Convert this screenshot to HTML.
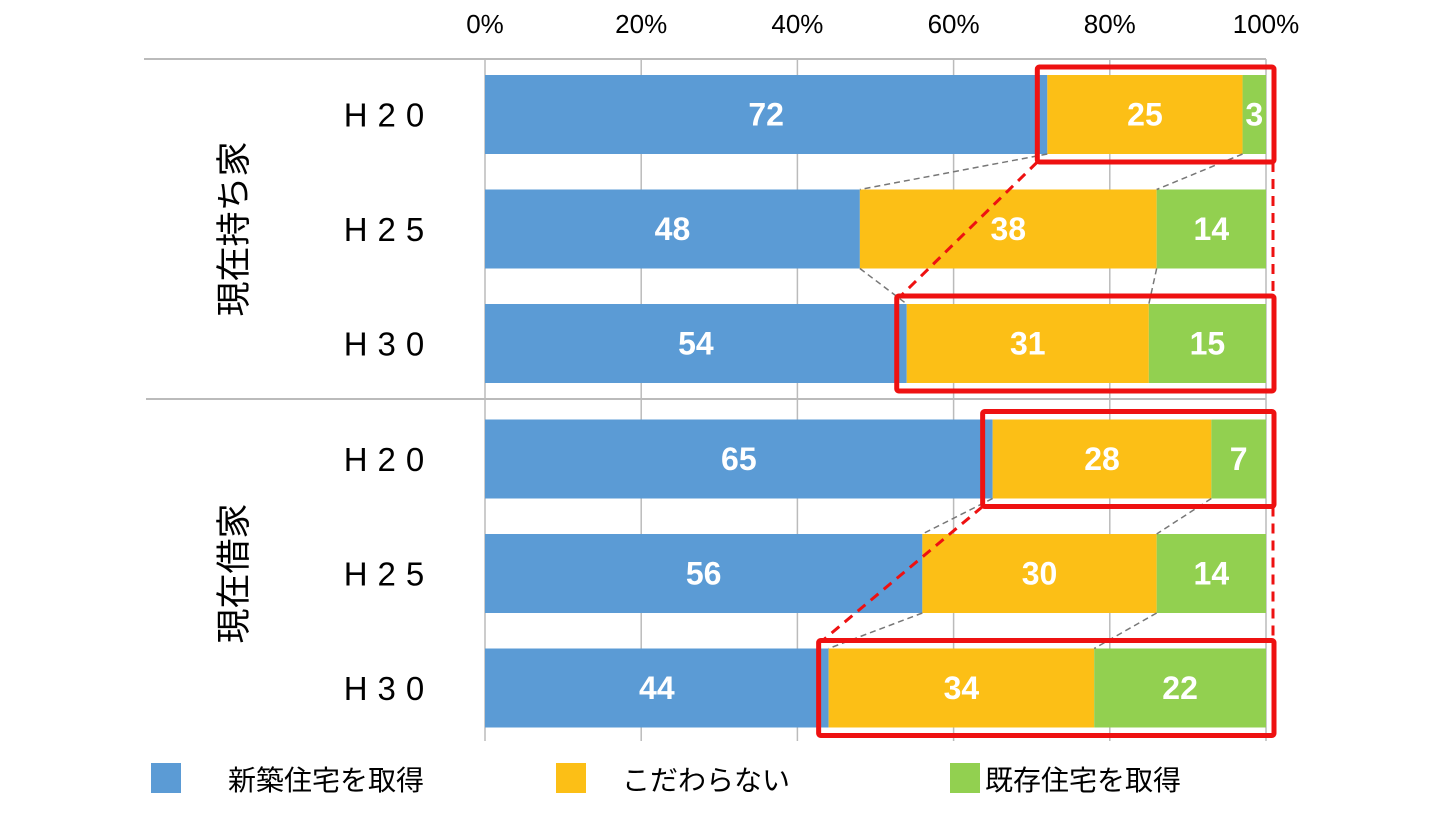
<!DOCTYPE html>
<html><head><meta charset="utf-8"><style>
body{margin:0;background:#fff;width:1440px;height:810px;overflow:hidden;font-family:"Liberation Sans","Noto Sans CJK JP",sans-serif}
</style></head><body>
<svg id="chart" width="1440" height="810" xmlns="http://www.w3.org/2000/svg"></svg>
<script>
const categories=["H20","H25","H30","H20","H25","H30"];
const groups=["現在持ち家","現在借家"];
const seriesNames=["新築住宅を取得","こだわらない","既存住宅を取得"];
const newBuild=[72,48,54,65,56,44];
const noPref=[25,38,31,28,30,34];
const existing=[3,14,15,7,14,22];
const tickLabels=["0%","20%","40%","60%","80%","100%"];
const colors=["#5B9BD5","#FCBF16","#92D050"];
const x0=485,x1=1266,top0=59,pitch=114.5,barH=79;
const svg=document.getElementById('chart');
const NS="http://www.w3.org/2000/svg";
function X(v){return x0+(x1-x0)*v/100;}
function rowY(i){return top0+16+i*pitch+(i>=3?1:0);}
function mk(t,a,p){const e=document.createElementNS(NS,t);for(const k in a)e.setAttribute(k,a[k]);(p||svg).appendChild(e);return e;}
let e=mk('line',{x1:144,y1:top0,x2:x1,y2:top0,stroke:'#bbb','stroke-width':2});


e=mk('line',{x1:146,y1:399,x2:x1,y2:399,stroke:'#bbb','stroke-width':2});


tickLabels.forEach((t,i)=>{
  const x=X(i*20);
  const g=mk('line',{x1:x,y1:top0,x2:x,y2:741,stroke:'#bbb','stroke-width':1.5});
  
  
  const tx=mk('text',{x:x,y:33,'text-anchor':'middle','font-size':26,fill:'#000'});
  tx.textContent=t;
  
  
});
const series=[newBuild,noPref,existing];
categories.forEach((c,i)=>{
  const y=rowY(i);let acc=0;
  series.forEach((s,k)=>{
    const v=s[i];
    const r=mk('rect',{x:X(acc),y:y,width:X(acc+v)-X(acc),height:barH,fill:colors[k]});
    
    
    const t=mk('text',{x:(X(acc)+X(acc+v))/2,y:y+barH/2+11,'text-anchor':'middle','font-size':32,'font-weight':'bold',fill:'#fff'});
    t.textContent=v;
    
    
    acc+=v;
  });
  const l=mk('text',{x:389,y:y+barH/2+12,'text-anchor':'middle','font-size':33,fill:'#000','letter-spacing':'10'});
  l.textContent=c;
  
  
});
[0,1,3,4].forEach(i=>{
  [X(newBuild[i]),X(newBuild[i]+noPref[i])].forEach((xa,k)=>{
    const xb=k==0?X(newBuild[i+1]):X(newBuild[i+1]+noPref[i+1]);
    const ln=mk('line',{x1:xa,y1:rowY(i)+barH,x2:xb,y2:rowY(i+1),stroke:'#777','stroke-width':1.5,'stroke-dasharray':'6,4'});
    
    
  });
});
[[0,2],[3,5]].forEach(([a,b])=>{
  const boxes=[a,b].map(i=>({x:X(newBuild[i])-10,y:rowY(i)-8,w:x1+8-(X(newBuild[i])-10),h:barH+16}));
  boxes.forEach(bx=>{
    const r=mk('rect',{x:bx.x,y:bx.y,width:bx.w,height:bx.h,fill:'none',stroke:'#EE1111','stroke-width':5,rx:2});
    
    
  });
  let d=mk('line',{x1:boxes[0].x,y1:boxes[0].y+boxes[0].h,x2:boxes[1].x+4,y2:boxes[1].y,stroke:'#EE1111','stroke-width':3,'stroke-dasharray':'10,7'});
  
  
  d=mk('line',{x1:x1+7,y1:boxes[0].y+boxes[0].h,x2:x1+7,y2:boxes[1].y,stroke:'#EE1111','stroke-width':3,'stroke-dasharray':'10,7'});
  
  
});
groups.forEach((g,k)=>{
  const cy=rowY(k*3+1)+barH/2;
  const t=mk('text',{x:0,y:0,'text-anchor':'middle','font-size':35,fill:'#000',transform:`translate(246,${cy}) rotate(-90)`});
  t.textContent=g;
  
  
});
const lx=[[151,228],[556,622],[950,985]];
seriesNames.forEach((n,k)=>{
  const r=mk('rect',{x:lx[k][0],y:763,width:30,height:30,fill:colors[k]});
  
  
  const t=mk('text',{x:lx[k][1],y:790,'font-size':28,fill:'#000'});
  t.textContent=n;
  
  
});
</script>
</body></html>
